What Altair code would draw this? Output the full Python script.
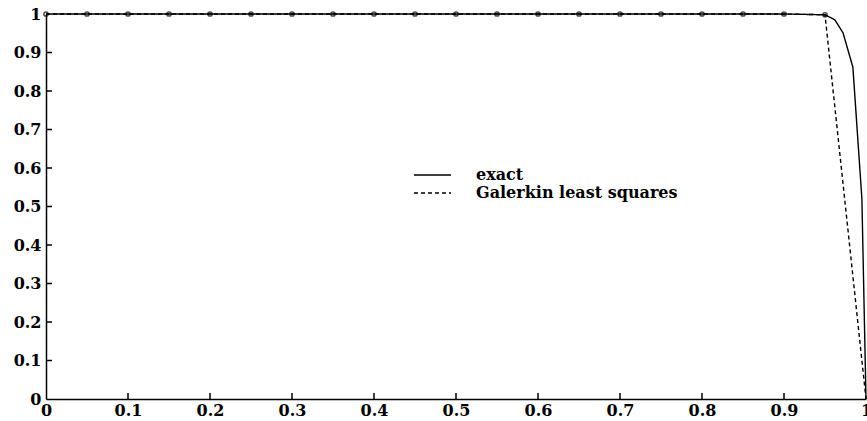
import altair as alt
import pandas as pd

# ---- data ----
mesh_x = [0.0, 0.05, 0.1, 0.15, 0.2, 0.25, 0.3, 0.35, 0.4, 0.45,
          0.5, 0.55, 0.6, 0.65, 0.7, 0.75, 0.8, 0.85, 0.9, 0.95, 1.0]
gls_y = [1.0, 1.0, 1.0, 1.0, 1.0, 1.0, 1.0, 1.0, 1.0, 1.0,
         1.0, 1.0, 1.0, 1.0, 1.0, 1.0, 1.0, 1.0, 1.0, 0.998, 0.0]

exact_x = [0.0, 0.05, 0.1, 0.15, 0.2, 0.25, 0.3, 0.35, 0.4, 0.45,
           0.5, 0.55, 0.6, 0.65, 0.7, 0.75, 0.8, 0.85, 0.9, 0.95,
           0.962, 0.972, 0.984, 0.995, 1.0]
exact_y = [1.0, 1.0, 1.0, 1.0, 1.0, 1.0, 1.0, 1.0, 1.0, 1.0,
           1.0, 1.0, 1.0, 1.0, 1.0, 1.0, 1.0, 1.0, 1.0, 0.998,
           0.985, 0.951, 0.862, 0.52, 0.0]

series_names = ["exact", "Galerkin least squares"]
x_ticks = [0, 0.1, 0.2, 0.3, 0.4, 0.5, 0.6, 0.7, 0.8, 0.9, 1]
y_ticks = [0, 0.1, 0.2, 0.3, 0.4, 0.5, 0.6, 0.7, 0.8, 0.9, 1]
inner_ticks = [0.1, 0.2, 0.3, 0.4, 0.5, 0.6, 0.7, 0.8, 0.9]

# ---- tables ----
lines = pd.concat([
    pd.DataFrame({"x": exact_x, "y": exact_y, "series": series_names[0], "order": range(len(exact_x))}),
    pd.DataFrame({"x": mesh_x, "y": gls_y, "series": series_names[1], "order": range(len(mesh_x))}),
], ignore_index=True)
markers = pd.DataFrame({"x": mesh_x[:-1], "y": gls_y[:-1]})
ticks = pd.DataFrame({"v": inner_ticks})

W, H = 820, 385
FONT = "DejaVu Serif"

xscale = alt.Scale(domain=[0, 1], nice=False, zero=False)
yscale = alt.Scale(domain=[0, 1], nice=False, zero=False)

x_axis = alt.Axis(values=x_ticks, format="~g", ticks=False, grid=False, domain=True,
                  domainColor="black", domainWidth=1.5, labelFont=FONT,
                  labelFontWeight="bold", labelFontSize=16, labelColor="black",
                  labelPadding=3, title=None, labelFlush=False, labelOverlap=False)
y_axis = alt.Axis(values=y_ticks, format="~g", ticks=False, grid=False, domain=True,
                  domainColor="black", domainWidth=1.5, labelFont=FONT,
                  labelFontWeight="bold", labelFontSize=16, labelColor="black",
                  labelPadding=5, title=None, labelFlush=False, labelOverlap=False)

line_layer = alt.Chart(lines).mark_line(color="black", strokeWidth=1.4).encode(
    x=alt.X("x:Q", scale=xscale, axis=x_axis),
    y=alt.Y("y:Q", scale=yscale, axis=y_axis),
    order="order:Q",
    strokeDash=alt.StrokeDash(
        "series:N",
        scale=alt.Scale(domain=series_names, range=[[1, 0], [4, 3]]),
        legend=alt.Legend(
            title=None, orient="none", legendX=367, legendY=152,
            symbolType="stroke", symbolSize=1369, symbolStrokeColor="black",
            symbolStrokeWidth=1.4, labelFont=FONT, labelFontWeight="bold",
            labelFontSize=16, labelColor="black", labelOffset=24, labelLimit=400,
            clipHeight=18, rowPadding=0, padding=0,
        ),
    ),
)

marker_layer = alt.Chart(markers).mark_point(
    shape="circle", size=18, filled=False, color="black", strokeWidth=1.5
).encode(x=alt.X("x:Q", scale=xscale, axis=x_axis),
         y=alt.Y("y:Q", scale=yscale, axis=y_axis))

ytick_layer = alt.Chart(ticks).mark_rule(color="black", strokeWidth=1.5).encode(
    y=alt.Y("v:Q", scale=yscale, axis=y_axis),
    x=alt.X(datum=0, scale=xscale, axis=x_axis),
    x2=alt.X2(datum=0.0073),
)
xtick_layer = alt.Chart(ticks).mark_rule(color="black", strokeWidth=1.5).encode(
    x=alt.X("v:Q", scale=xscale, axis=x_axis),
    y=alt.Y(datum=0, scale=yscale, axis=y_axis),
    y2=alt.Y2(datum=0.0156),
)

chart = alt.layer(line_layer, marker_layer, ytick_layer, xtick_layer).properties(
    width=W, height=H,
    autosize=alt.AutoSizeParams(type="none"),
    padding={"left": 46, "top": 14, "right": 1, "bottom": 22},
    background="white",
).configure_view(stroke=None)

chart.save("out.html", embed_options={"renderer": "svg", "actions": False})
